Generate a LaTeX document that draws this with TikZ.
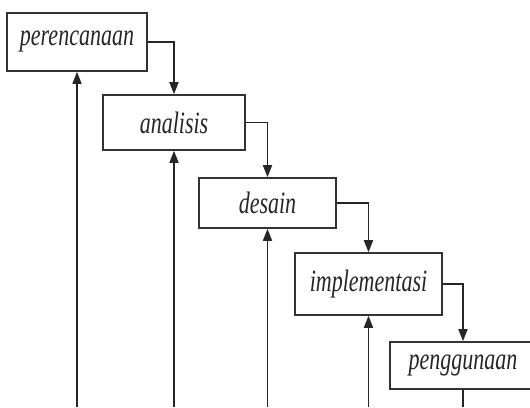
\documentclass[tikz,border=0pt]{standalone}
\usepackage{fontspec}
\newfontfamily\labfont[FakeStretch=0.71]{Liberation Serif}
\usetikzlibrary{arrows.meta}
\begin{document}
\begin{tikzpicture}[x=1pt,y=1pt,
  box/.style={draw=black!80, line width=1.6pt, fill=white, inner sep=0pt,
    font=\labfont\itshape\fontsize{31}{34}\selectfont, text=black!85},
  link/.style={draw=black!85, line width=1.6pt, -{Triangle[length=12pt,width=9pt]}},
  plainline/.style={draw=black!85, line width=1.6pt}]
\useasboundingbox (0,0) rectangle (530,407);
\clip (0,0) rectangle (530,407);
\node[box, minimum width=140, minimum height=58] (b1) at (77,365) {perencanaan};
\node[box, minimum width=142, minimum height=55] (b2) at (174,284.5) {analisis};
\node[box, minimum width=137, minimum height=50] (b3) at (267.5,204) {desain};
\node[box, minimum width=147, minimum height=62] (b4) at (368.5,123) {implementasi};
\node[box, minimum width=146, minimum height=47] (b5) at (463,41.5) {penggunaan};
\coordinate (bot) at (0,0);
\coordinate (u1) at (b1.south |- bot);
\coordinate (u2) at (b2.south |- bot);
\coordinate (u3) at (b3.south |- bot);
\coordinate (u4) at (b4.south |- bot);
\coordinate (d5) at (b5.south |- bot);
\draw[link] (b1.east) -| (b2.north);
\draw[link] (b2.east) -| (b3.north);
\draw[link] (b3.east) -| (b4.north);
\draw[link] (b4.east) -| (b5.north);
\draw[link] (u1) -- (b1.south);
\draw[link] (u2) -- (b2.south);
\draw[link] (u3) -- (b3.south);
\draw[link] (u4) -- (b4.south);
\draw[plainline] (b5.south) -- (d5);
\end{tikzpicture}
\end{document}
